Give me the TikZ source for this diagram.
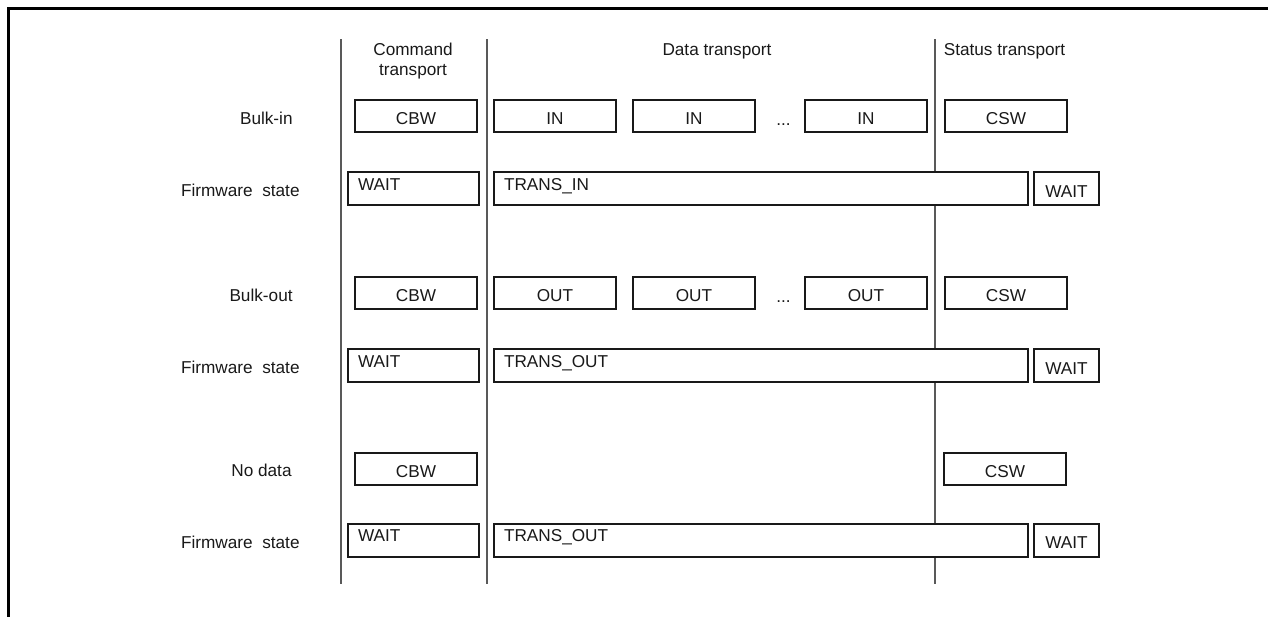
\documentclass[tikz,border=0pt]{standalone}
\usepackage{fontspec}
\setsansfont{Liberation Sans}
\usepackage{tikz}
\usetikzlibrary{positioning}
\tikzset{
  base/.style={font=\sffamily\fontsize{8.6}{10}\selectfont, text=black!90, inner sep=0pt},
  packet/.style={base, rectangle, draw=black!90, fill=white, line width=1pt, minimum width=61pt, minimum height=16pt, text height=8.6pt, text depth=0pt},
  state/.style={base, rectangle, draw=black!90, fill=white, line width=1pt, inner xsep=5pt, align=left, text height=9pt, text depth=7.5pt},
  endstate/.style={base, rectangle, draw=black!90, fill=white, line width=1pt, minimum width=32.5pt, minimum height=16.5pt, text height=8.7pt, text depth=0pt},
  rowlabel/.style={base, anchor=east, text height=8.2pt, text depth=0pt},
  dots/.style={base, text height=9pt, text depth=0pt},
  header/.style={base, anchor=north, align=center},
  lane/.style={draw=black!65, line width=0.6pt},
  frame/.style={draw=black, line width=1.5pt}
}
\begin{document}
\begin{tikzpicture}[x=0.5pt, y=-0.5pt]
  \useasboundingbox (0,0) rectangle (1268,617);

  % Frame
  \coordinate (framene) at (1268,8);
  \coordinate (framenw) at (8,8);
  \coordinate (framesw) at (8,617);
  \draw[frame] (framene) -- (framenw) -- (framesw);

  % Phases
  \node[header] (hcmd) at (413,43) {Command\\transport};
  \node[header] (hdata) at (717,43) {Data transport};
  \node[header] (hstat) at (1004.5,43) {Status transport};

  \coordinate (lane1t) at (341,39);  \coordinate (lane1b) at (341,584);
  \coordinate (lane2t) at (487,39);  \coordinate (lane2b) at (487,584);
  \coordinate (lane3t) at (935,39);  \coordinate (lane3b) at (935,584);
  \draw[lane] (lane1t) -- (lane1b);
  \draw[lane] (lane2t) -- (lane2b);
  \draw[lane] (lane3t) -- (lane3b);

  % Bulk-in
  \node[rowlabel] (bulkin) at (293,116) {Bulk-in};
  \node[packet] (cbwin) at (416,116) {CBW};
  \node[packet, right=7.5pt of cbwin] (in1) {IN};
  \node[packet, right=7.5pt of in1] (in2) {IN};
  \node[dots, right=10pt of in2] (dotsin) {...};
  \node[packet, right=24pt of in2] (in3) {IN};
  \node[packet, right=8pt of in3] (cswin) {CSW};

  \node[rowlabel] (fwin) at (300,188.5) {Firmware\ \ state};
  \node[state, text width=55.5pt] (waitin) at (413.5,188.5) {WAIT};
  \node[state, text width=257pt, right=6.5pt of waitin] (transin) {TRANS\_IN};
  \node[endstate, right=2pt of transin] (endin) {WAIT};

  % Bulk-out
  \node[rowlabel] (bulkout) at (293,293) {Bulk-out};
  \node[packet] (cbwout) at (416,293) {CBW};
  \node[packet, right=7.5pt of cbwout] (out1) {OUT};
  \node[packet, right=7.5pt of out1] (out2) {OUT};
  \node[dots, right=10pt of out2] (dotsout) {...};
  \node[packet, right=24pt of out2] (out3) {OUT};
  \node[packet, right=8pt of out3] (cswout) {CSW};

  \node[rowlabel] (fwout) at (300,365.5) {Firmware\ \ state};
  \node[state, text width=55.5pt] (waitout) at (413.5,365.5) {WAIT};
  \node[state, text width=257pt, right=6.5pt of waitout] (transout) {TRANS\_OUT};
  \node[endstate, right=2pt of transout] (endout) {WAIT};

  % No data
  \node[rowlabel] (nodata) at (292,468.5) {No data};
  \node[packet] (cbwnd) at (416,468.5) {CBW};
  \node[packet] (cswnd) at (1005,468.5) {CSW};

  \node[rowlabel] (fwnd) at (300,540) {Firmware\ \ state};
  \node[state, text width=55.5pt] (waitnd) at (413.5,540) {WAIT};
  \node[state, text width=257pt, right=6.5pt of waitnd] (transnd) {TRANS\_OUT};
  \node[endstate, right=2pt of transnd] (endnd) {WAIT};

\end{tikzpicture}
\end{document}
